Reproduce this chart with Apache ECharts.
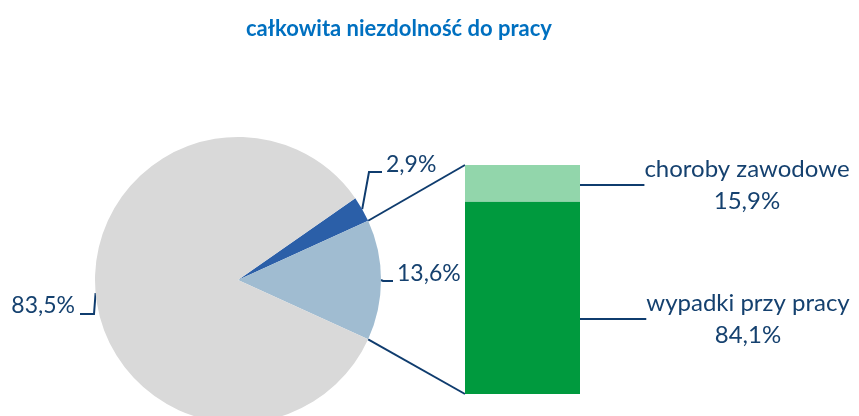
<!DOCTYPE html>
<html>
<head>
<meta charset="utf-8">
<script src="https://cdn.jsdelivr.net/npm/echarts@6/dist/echarts.min.js"></script>
<style>
  html, body { margin: 0; padding: 0; background: #fff; }
  #chart { width: 859px; height: 416px; }
</style>
</head>
<body>
<div id="chart"></div>
<script>
// pie: całkowita niezdolność do pracy
const pieNames = ['inne', 'choroby zawodowe (pie)', 'wypadki (pie)']
const pieValues = [2.9, 13.6, 83.5]
const pieColors = ['#2b5fa8', '#a0bcd1', '#d9d9d9']

// bar of pie: breakdown of the 13.6% slice
const barNames = ['wypadki przy pracy', 'choroby zawodowe']
const barValues = [84.1, 15.9]
const barColors = ['#009a3e', '#92d6ab']

const textColor = '#15416f'
const lineColor = '#0f3c6e'
const font = 'Lato'

const pieCenter = [238, 280]
const pieRadius = 143
// put the 13.6 slice symmetric about the horizontal axis
const startAngle = pieValues[0] * 3.6 + pieValues[1] * 1.8

const gridLeft = 465
const gridWidth = 115
const gridTop = 165
const gridBottom = 22

function fmt(v) {
  return v.toFixed(1).replace('.', ',') + '%'
}

const chart = echarts.init(document.getElementById('chart'))

// pie label positions + leader lines (Excel-like)
function pieLabelLayout(params) {
  const p0 = params.labelLinePoints ? params.labelLinePoints[0] : [0, 0]
  if (params.dataIndex === 0) {
    return { x: 386, y: 165, align: 'left', verticalAlign: 'middle',
      labelLinePoints: [p0, [369, 172], [382, 172]] }
  }
  if (params.dataIndex === 1) {
    return { x: 397, y: 274, align: 'left', verticalAlign: 'middle',
      labelLinePoints: [p0, [383, 281], [393, 281]] }
  }
  return { x: 75, y: 306, align: 'right', verticalAlign: 'middle',
    labelLinePoints: [p0, [94, 314], [80, 314]] }
}

function barLabelLayout(params) {
  const r = params.rect
  const start = [r.x + r.width, r.y + r.height / 2]
  if (params.seriesIndex === 2) {
    return { x: 747, y: 185, align: 'center', verticalAlign: 'middle',
      labelLinePoints: [start, [start[0] + 26, start[1]], [633, start[1]]] }
  }
  return { x: 748, y: 319, align: 'center', verticalAlign: 'middle',
    labelLinePoints: [start, [622, 316], [633, 316]] }
}

const barLabel = {
  show: true,
  color: textColor,
  fontFamily: font,
  fontSize: 24,
  lineHeight: 32,
  formatter: p => p.seriesName + '\n' + fmt(p.value)
}

chart.setOption({
  animation: false,
  title: {
    text: 'całkowita niezdolność do pracy',
    left: 241,
    top: 13,
    textStyle: { color: '#0070c0', fontFamily: font, fontWeight: 'bold', fontSize: 22 }
  },
  grid: { left: gridLeft, width: gridWidth, top: gridTop, bottom: gridBottom },
  xAxis: { type: 'category', data: [''], show: false },
  yAxis: { type: 'value', min: 0, max: 100, show: false },
  series: [
    {
      type: 'pie',
      center: pieCenter,
      radius: pieRadius,
      startAngle: startAngle,
      clockwise: true,
      data: pieNames.map((n, i) => ({ name: n, value: pieValues[i], itemStyle: { color: pieColors[i] } })),
      label: {
        show: true,
        color: textColor,
        fontFamily: font,
        fontSize: 23,
        overflow: 'none',
        formatter: p => fmt(p.value)
      },
      labelLine: { show: true, lineStyle: { color: lineColor, width: 2 } },
      labelLayout: pieLabelLayout,
      emphasis: { disabled: true }
    },
    {
      type: 'bar',
      name: barNames[0],
      stack: 'b',
      barWidth: '100%',
      data: [barValues[0]],
      itemStyle: { color: barColors[0] },
      label: barLabel,
      labelLine: { show: true, lineStyle: { color: lineColor, width: 2 } },
      labelLayout: barLabelLayout
    },
    {
      type: 'bar',
      name: barNames[1],
      stack: 'b',
      barWidth: '100%',
      data: [barValues[1]],
      itemStyle: { color: barColors[1] },
      label: barLabel,
      labelLine: { show: true, lineStyle: { color: lineColor, width: 2 } },
      labelLayout: barLabelLayout
    }
  ]
})

// connector lines from the 13.6 slice edges to the bar corners
const deg = Math.PI / 180
const aTop = (startAngle - pieValues[0] * 3.6) * deg
const aBot = (startAngle - (pieValues[0] + pieValues[1]) * 3.6) * deg
const topPt = [pieCenter[0] + pieRadius * Math.cos(aTop), pieCenter[1] - pieRadius * Math.sin(aTop)]
const botPt = [pieCenter[0] + pieRadius * Math.cos(aBot), pieCenter[1] - pieRadius * Math.sin(aBot)]
const yTop = chart.convertToPixel({ yAxisIndex: 0 }, 100)
const yBot = chart.convertToPixel({ yAxisIndex: 0 }, 0)

chart.setOption({
  graphic: [
    { type: 'line', shape: { x1: topPt[0], y1: topPt[1], x2: gridLeft, y2: yTop },
      style: { stroke: lineColor, lineWidth: 2 } },
    { type: 'line', shape: { x1: botPt[0], y1: botPt[1], x2: gridLeft, y2: yBot },
      style: { stroke: lineColor, lineWidth: 2 } }
  ]
})
</script>
</body>
</html>
